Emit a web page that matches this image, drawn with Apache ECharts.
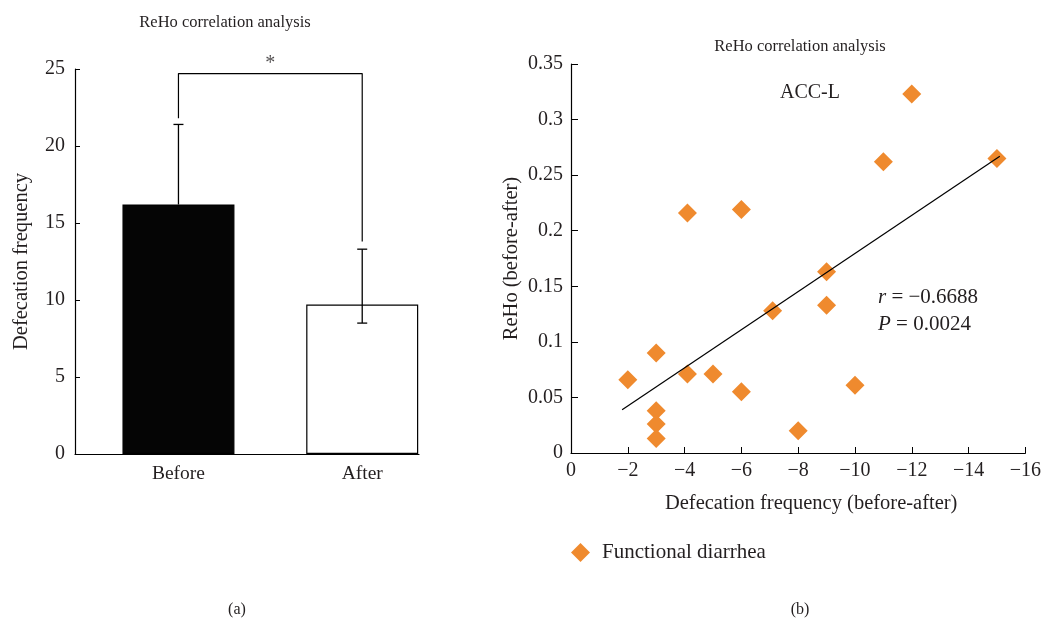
<!DOCTYPE html>
<html>
<head>
<meta charset="utf-8">
<script src="https://cdn.jsdelivr.net/npm/echarts@6/dist/echarts.min.js"></script>
<style>
  html, body { margin: 0; padding: 0; background: #fff; }
  #main { width: 1044px; height: 624px; }
</style>
</head>
<body>
<div id="main"></div>
<script>
// (a) bar chart
var groups = ['Before', 'After'];
var means = [16.2, 9.7];
var errHigh = [21.4, 13.3];
var errLow = [16.2, 8.5];
// significance bracket: left leg end, top, right leg end
var bracketY = [21.8, 24.7, 13.8];

// (b) scatter
var changeX = [-2, -3, -3, -3, -3, -4.1, -4.1, -5, -6, -6, -7.1, -8, -9, -9, -10, -11, -12, -15];
var rehoY = [0.066, 0.090, 0.038, 0.026, 0.013, 0.216, 0.071, 0.071, 0.219, 0.055, 0.128, 0.020, 0.163, 0.133, 0.061, 0.262, 0.323, 0.265];
var trendX = [-1.8, -15.1];
var trendY = [0.039, 0.267];

var FONT = 'Liberation Serif';
var TXT = '#231f20';
var ORANGE = '#ef8a2e';

var chart = echarts.init(document.getElementById('main'));

var barData = groups.map(function (g, i) { return [i + 1, means[i]]; });
var errData = groups.map(function (g, i) { return [i + 1, errHigh[i], errLow[i]]; });
var bracketData = [[1, bracketY[0]], [1, bracketY[1]], [2, bracketY[1]], [2, bracketY[2]]];
var scatterData = changeX.map(function (x, i) { return [x, rehoY[i]]; });
var trendData = trendX.map(function (x, i) { return [x, trendY[i]]; });

function minus(v) {
  return v === 0 ? '0' : (v < 0 ? '\u2212' + Math.abs(v) : String(v));
}

var option = {
  animation: false,
  textStyle: { fontFamily: FONT, color: TXT },
  title: [
    { text: 'ReHo correlation analysis', left: 220, top: 9, textAlign: 'center',
      textStyle: { fontFamily: FONT, fontSize: 16.5, fontWeight: 'normal', color: TXT } },
    { text: 'ReHo correlation analysis', left: 795, top: 33, textAlign: 'center',
      textStyle: { fontFamily: FONT, fontSize: 16.5, fontWeight: 'normal', color: TXT } },
    { text: 'ACC-L', left: 805, top: 78, textAlign: 'center',
      textStyle: { fontFamily: FONT, fontSize: 20, fontWeight: 'normal', color: TXT } },
    { text: '{i|r} = \u22120.6688\n{i|P} = 0.0024', left: 873, top: 279,
      textStyle: { fontFamily: FONT, fontSize: 21, fontWeight: 'normal', color: TXT, lineHeight: 27,
        rich: { i: { fontStyle: 'italic', fontFamily: FONT, fontSize: 21, color: TXT, lineHeight: 27 } } } },
    { text: '(a)', left: 232, top: 597, textAlign: 'center',
      textStyle: { fontFamily: FONT, fontSize: 16, fontWeight: 'normal', color: TXT } },
    { text: '(b)', left: 795, top: 597, textAlign: 'center',
      textStyle: { fontFamily: FONT, fontSize: 16, fontWeight: 'normal', color: TXT } }
  ],
  legend: {
    data: ['Functional diarrhea'],
    left: 566, top: 537,
    icon: 'diamond',
    itemWidth: 19, itemHeight: 19,
    textStyle: { fontFamily: FONT, fontSize: 21, color: TXT, padding: [0, 0, 0, 7] }
  },
  grid: [
    { left: 75, top: 69, width: 344, height: 385 },
    { left: 571, top: 64, width: 455, height: 389 }
  ],
  xAxis: [
    {
      gridIndex: 0, type: 'value', min: 0.437, max: 2.309,
      splitLine: { show: false },
      axisLine: { show: true, lineStyle: { color: '#000', width: 1.2 } },
      axisTick: { show: false },
      axisLabel: {
        customValues: [1, 2], margin: 10,
        fontFamily: FONT, fontSize: 19.5, color: TXT,
        formatter: function (v) { return groups[Math.round(v) - 1] || ''; }
      }
    },
    {
      gridIndex: 1, type: 'value', min: -16, max: 0, interval: 2, inverse: true,
      splitLine: { show: false },
      axisLine: { show: true, lineStyle: { color: '#000', width: 1.2 } },
      axisTick: { show: true, inside: true, length: 6, lineStyle: { color: '#000' } },
      axisLabel: { margin: 8, fontFamily: FONT, fontSize: 20, color: TXT, formatter: minus },
      name: 'Defecation frequency (before-after)', nameLocation: 'middle', nameGap: 40,
      nameTextStyle: { fontFamily: FONT, fontSize: 20.5, color: TXT, padding: [0, 0, 0, 26] }
    }
  ],
  yAxis: [
    {
      gridIndex: 0, type: 'value', min: 0, max: 25, interval: 5,
      splitLine: { show: false },
      axisLine: { show: true, lineStyle: { color: '#000', width: 1.2 } },
      axisTick: { show: true, inside: true, length: 5, lineStyle: { color: '#000' } },
      axisLabel: { margin: 10, fontFamily: FONT, fontSize: 20, color: TXT },
      name: 'Defecation frequency', nameLocation: 'middle', nameGap: 43,
      nameTextStyle: { fontFamily: FONT, fontSize: 20.5, color: TXT }
    },
    {
      gridIndex: 1, type: 'value', min: 0, max: 0.35, interval: 0.05,
      splitLine: { show: false },
      axisLine: { show: true, lineStyle: { color: '#000', width: 1.2 } },
      axisTick: { show: true, inside: true, length: 7, lineStyle: { color: '#000' } },
      axisLabel: { margin: 8, fontFamily: FONT, fontSize: 20, color: TXT },
      name: 'ReHo (before-after)', nameLocation: 'middle', nameGap: 49,
      nameTextStyle: { fontFamily: FONT, fontSize: 20.5, color: TXT }
    }
  ],
  series: [
    {
      type: 'bar', xAxisIndex: 0, yAxisIndex: 0, barWidth: 112,
      data: barData.map(function (d, i) {
        return { value: d, itemStyle: { color: i === 0 ? '#050505' : '#fff', borderColor: '#000', borderWidth: 1.2 } };
      })
    },
    {
      type: 'custom', xAxisIndex: 0, yAxisIndex: 0, z: 5,
      data: errData,
      renderItem: function (params, api) {
        var top = api.coord([api.value(0), api.value(1)]);
        var bot = api.coord([api.value(0), api.value(2)]);
        var w = 5, st = { stroke: '#000', lineWidth: 1.3 };
        var kids = [
          { type: 'line', shape: { x1: top[0], y1: top[1], x2: bot[0], y2: bot[1] }, style: st },
          { type: 'line', shape: { x1: top[0] - w, y1: top[1], x2: top[0] + w, y2: top[1] }, style: st }
        ];
        if (params.dataIndex > 0) {
          kids.push({ type: 'line', shape: { x1: bot[0] - w, y1: bot[1], x2: bot[0] + w, y2: bot[1] }, style: st });
        }
        return { type: 'group', children: kids };
      }
    },
    {
      type: 'line', xAxisIndex: 0, yAxisIndex: 0, symbol: 'none',
      lineStyle: { color: '#000', width: 1.2 },
      data: bracketData
    },
    {
      type: 'scatter', xAxisIndex: 0, yAxisIndex: 0, symbolSize: 0,
      data: [[1.5, bracketY[1]]],
      label: { show: true, position: 'top', distance: 0, formatter: '*', fontFamily: FONT, fontSize: 20, color: TXT }
    },
    {
      name: 'Functional diarrhea', type: 'scatter', xAxisIndex: 1, yAxisIndex: 1,
      symbol: 'diamond', symbolSize: 19,
      itemStyle: { color: ORANGE, opacity: 1 },
      data: scatterData
    },
    {
      type: 'line', xAxisIndex: 1, yAxisIndex: 1, symbol: 'none', z: 5,
      lineStyle: { color: '#000', width: 1.2 },
      data: trendData
    }
  ]
};

chart.setOption(option);
</script>
</body>
</html>
